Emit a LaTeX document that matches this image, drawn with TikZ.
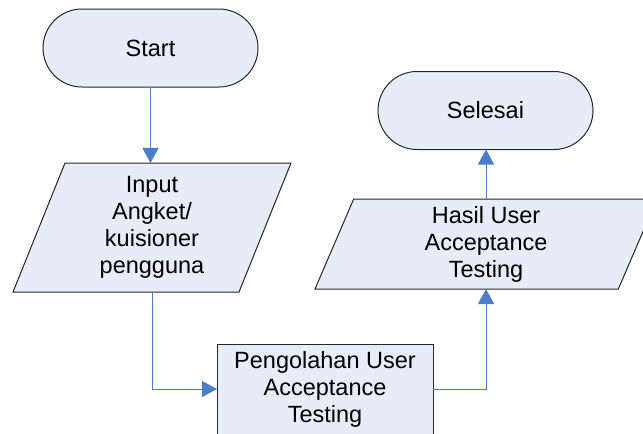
\documentclass[tikz,border=0pt]{standalone}
\usepackage{fontspec}
\setmainfont{Liberation Sans}
\usetikzlibrary{shapes.geometric,shapes.misc,arrows.meta}
\definecolor{boxfill}{RGB}{230,236,248}
\definecolor{linkblue}{RGB}{74,126,200}

\begin{document}
\begin{tikzpicture}[x=1pt,y=-1pt]
	\tikzstyle{every node}=[draw=black!85,line width=1pt,fill=boxfill,align=center,inner sep=0pt,outer sep=0pt,font=\fontsize{23.5}{27}\selectfont]
	\tikzstyle{terminal}=[rounded rectangle,minimum width=215pt,minimum height=78pt]
	\tikzstyle{io}=[trapezium,trapezium left angle=63,trapezium right angle=117,trapezium stretches body]
	\tikzstyle{proc}=[rectangle,minimum width=216pt,minimum height=90pt]
	\tikzstyle{link}=[draw=linkblue,line width=1pt,-{Triangle[width=16pt,length=15pt]}]
	\useasboundingbox (0,0) rectangle (643,434);
	\node[terminal] (start) at (150.5,48) {Start};
	\node[io,minimum width=278pt,minimum height=129pt] (input) at (152,227.5) {Input\\Angket/\\kuisioner\\pengguna};
	\node[proc] (olah) at (325,389) {Pengolahan User\\Acceptance\\Testing};
	\node[io,minimum width=342pt,minimum height=90pt] (hasil) at (486,244) {Hasil User\\Acceptance\\Testing};
	\node[terminal] (selesai) at (485.5,110.5) {Selesai};
	\draw[link] (start.south) -- (start.south |- input.north);
	\draw[link] (input.south) |- (olah.west);
	\draw[link] (olah.east) -| (hasil.south);
	\draw[link] (hasil.north) -- (hasil.north |- selesai.south);
\end{tikzpicture}
\end{document}
